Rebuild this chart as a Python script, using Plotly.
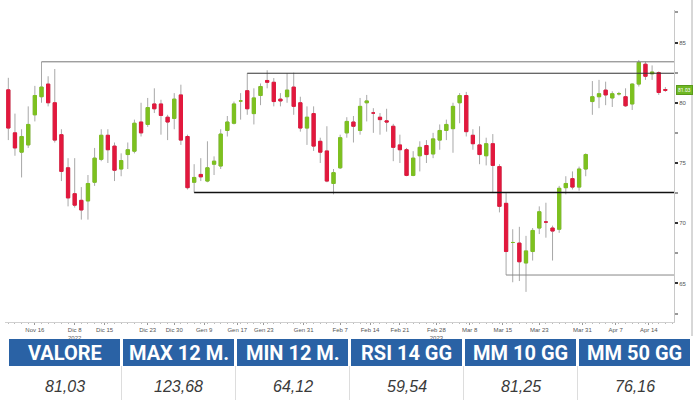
import plotly.graph_objects as go

# daily OHLC, one candle per trading session
OPEN = [81.07, 77.5, 75.9, 76.5, 79.0, 80.5, 81.55, 80.0, 77.35, 74.6,
        72.45, 71.9, 71.85, 73.4, 75.3, 77.3, 76.4, 74.5, 75.7, 75.98,
        78.4, 78.2, 79.9, 79.9, 78.8, 78.7, 80.65, 77.2, 73.4, 74.05,
        73.5, 74.9, 74.75, 77.7, 78.3, 80.15, 81.0, 79.1, 80.6, 81.85,
        81.7, 80.3, 80.5, 81.3, 80.0, 77.9, 79.1, 76.8, 76.0, 73.3,
        74.6, 77.5, 78.4, 77.7, 80.0, 79.15, 78.8, 78.5, 78.05, 76.5,
        76.1, 73.97, 75.6, 76.45, 75.75, 76.9, 77.7, 77.85, 80.0, 80.6,
        77.3, 76.5, 75.6, 76.6, 74.7, 71.65, 68.4, 68.35, 66.7, 67.65,
        69.6, 70.1, 69.6, 69.5, 72.95, 73.7, 73.0, 74.5, 80.1, 80.5,
        81.05, 80.4, 80.75, 80.5, 79.9, 81.55, 83.2, 82.4, 82.5, 81.1]
HIGH = [82.07, 79.1, 77.8, 79.7, 81.4, 83.4, 82.2, 82.8, 77.8, 75.4,
        75.4, 73.0, 74.0, 76.25, 77.8, 77.8, 76.7, 75.8, 76.7, 78.6,
        80.0, 80.4, 81.2, 80.25, 79.0, 80.8, 81.5, 77.35, 74.9, 75.4,
        76.8, 75.55, 77.8, 78.9, 80.1, 80.8, 82.45, 81.2, 81.6, 82.7,
        82.05, 80.8, 82.45, 82.5, 80.5, 79.7, 79.7, 77.1, 78.05, 74.5,
        77.35, 78.8, 78.9, 80.4, 80.65, 79.55, 79.15, 79.5, 78.25, 77.35,
        76.25, 75.98, 76.8, 76.9, 77.5, 78.2, 78.6, 80.0, 80.8, 80.9,
        77.8, 78.05, 77.1, 77.4, 74.9, 72.5, 69.5, 69.7, 68.95, 69.6,
        71.4, 71.7, 69.8, 73.1, 73.9, 74.3, 74.7, 75.8, 81.8, 81.9,
        81.75, 80.95, 80.9, 81.2, 81.6, 83.55, 83.4, 83.1, 82.6, 81.3]
LOW = [76.9, 75.6, 73.8, 76.25, 78.45, 80.0, 79.7, 76.7, 73.5, 71.4,
       71.3, 70.3, 70.3, 73.1, 75.15, 75.0, 73.5, 73.9, 74.5, 75.8,
       77.2, 78.0, 79.15, 77.35, 76.9, 77.8, 76.5, 72.8, 72.54, 73.5,
       73.4, 74.0, 74.5, 77.2, 78.2, 78.6, 79.0, 78.2, 79.8, 81.2,
       79.7, 79.7, 80.0, 79.0, 77.6, 76.5, 76.0, 75.0, 73.4, 72.4,
       74.5, 77.1, 76.7, 77.35, 78.45, 77.5, 77.35, 77.6, 75.15, 75.0,
       73.9, 73.9, 74.3, 75.0, 75.4, 76.1, 76.9, 75.85, 78.3, 77.2,
       76.1, 74.9, 74.8, 72.5, 70.9, 65.7, 65.1, 65.2, 64.3, 66.9,
       69.1, 68.8, 66.9, 69.2, 72.4, 72.8, 72.7, 73.9, 79.0, 79.55,
       79.8, 79.65, 80.6, 79.65, 79.4, 81.35, 81.9, 81.9, 80.65, 80.9]
CLOSE = [77.9, 76.25, 77.2, 78.2, 80.6, 81.3, 80.0, 76.9, 74.3, 72.1,
         71.5, 71.1, 73.3, 75.4, 77.3, 76.1, 74.4, 75.2, 76.1, 78.3,
         77.5, 79.6, 79.5, 78.95, 78.4, 80.3, 76.9, 72.95, 73.8, 73.85,
         74.6, 75.15, 77.4, 78.4, 79.9, 80.15, 79.5, 80.4, 81.35, 81.7,
         80.1, 80.15, 81.05, 79.7, 77.9, 78.8, 76.4, 75.9, 73.5, 74.2,
         77.1, 78.45, 78.05, 79.7, 80.15, 79.15, 78.6, 78.4, 76.3, 76.1,
         73.97, 75.4, 76.3, 75.7, 77.0, 77.7, 78.2, 79.7, 80.6, 77.6,
         76.6, 75.7, 76.6, 74.8, 71.4, 67.65, 68.4, 66.8, 67.7, 69.4,
         70.95, 70.1, 69.35, 72.9, 73.3, 73.0, 74.5, 75.7, 80.5, 80.75,
         80.65, 80.75, 80.75, 79.75, 81.55, 83.35, 82.2, 82.55, 80.85, 81.03]
DAYS = list(range(1, len(OPEN) + 1))

TICK_POS = [5, 11, 15.5, 22, 26, 30.5, 35.5, 39.5, 45.5, 51,
            55.5, 60, 65.5, 70.5, 75.5, 81, 87.5, 92.5, 97.5]
TICK_TEXT = ["Nov 16", "Dic 8<br>2022", "Dic 15", "Dic 23", "Dic 30", "Gen 9",
             "Gen 17", "Gen 23", "Gen 31", "Feb 7", "Feb 14", "Feb 21",
             "Feb 28<br>2023", "Mar 8", "Mar 15", "Mar 23", "Mar 31", "Apr 7", "Apr 14"]

# support / resistance levels: starting candle and price
LEVEL_START = [6, 37, 29, 76]
LEVEL_PRICE = [83.4, 82.45, 72.54, 65.7]
LAST_PRICE = 81.03

TABLE_HEADERS = ["VALORE", "MAX 12 M.", "MIN 12 M.", "RSI 14 GG", "MM 10 GG", "MM 50 GG"]
TABLE_VALUES = ["81,03", "123,68", "64,12", "59,54", "81,25", "76,16"]

GREEN = "#7dc11f"
RED = "#e2183d"
BLUE = "#2a62a5"
X_RANGE = [0.5, 101.3]
Y_RANGE = [61.8, 87.7]

# plot area in pixels: x 5..674, y 10..322
L, R, T, B = 5, 26, 10, 78
PW, PH = 700 - L - R, 400 - T - B


def px(x):
    return (x - L) / PW


def py(y):
    return (T + PH - y) / PH


fig = go.Figure()

# wicks (grey) with coloured bodies
fig.add_trace(go.Candlestick(
    x=DAYS, open=OPEN, high=HIGH, low=LOW, close=CLOSE,
    increasing=dict(line=dict(color="#a8a8a8", width=1), fillcolor=GREEN),
    decreasing=dict(line=dict(color="#a8a8a8", width=1), fillcolor=RED),
    hoverinfo="skip", showlegend=False,
))
# bodies on top so their outline matches the fill
body_hi = [max(o, c) for o, c in zip(OPEN, CLOSE)]
body_lo = [min(o, c) for o, c in zip(OPEN, CLOSE)]
fig.add_trace(go.Candlestick(
    x=DAYS, open=OPEN, high=body_hi, low=body_lo, close=CLOSE,
    increasing=dict(line=dict(color=GREEN, width=1), fillcolor=GREEN),
    decreasing=dict(line=dict(color=RED, width=1), fillcolor=RED),
    showlegend=False,
))

level_style = [("#777777", 1), ("#333333", 1), ("#111111", 1.5), ("#888888", 1)]
for start, price, (col, w) in zip(LEVEL_START, LEVEL_PRICE, level_style):
    fig.add_shape(type="line", xref="x", yref="y", x0=start, x1=X_RANGE[1],
                  y0=price, y1=price, line=dict(color=col, width=w))

# last price tag on the right axis
fig.add_annotation(xref="paper", yref="y", x=px(684.5), y=LAST_PRICE,
                   xanchor="center", yanchor="middle",
                   text=f"{LAST_PRICE:.2f}", showarrow=False,
                   font=dict(size=5, color="white", family="Roboto"),
                   bgcolor="#6fb823", bordercolor="#5a9a1a", borderpad=1)

# outer frame line on the right
fig.add_shape(type="line", xref="paper", yref="paper", x0=px(692), x1=px(692),
              y0=py(0), y1=py(336), line=dict(color="#b0b0b0", width=1))

# summary table under the chart
for i, (head, val) in enumerate(zip(TABLE_HEADERS, TABLE_VALUES)):
    x0 = 9 + 114 * i
    x1 = x0 + 111
    fig.add_shape(type="rect", xref="paper", yref="paper", x0=px(x0), x1=px(x1),
                  y0=py(366), y1=py(339), fillcolor=BLUE, line=dict(width=0))
    fig.add_annotation(xref="paper", yref="paper", x=px((x0 + x1) / 2), y=py(353),
                       xanchor="center", yanchor="middle",
                       text=f"<b>{head}</b>", showarrow=False,
                       font=dict(size=20, color="white", family="Roboto"))
    fig.add_annotation(xref="paper", yref="paper", x=px((x0 + x1) / 2), y=py(386),
                       xanchor="center", yanchor="middle",
                       text=f"<i>{val}</i>", showarrow=False,
                       font=dict(size=16, color="#3a3a3a", family="Liberation Sans"))
    if i > 0:
        fig.add_shape(type="line", xref="paper", yref="paper", x0=px(x0 - 1.5),
                      x1=px(x0 - 1.5), y0=py(366), y1=py(400),
                      line=dict(color="#dddddd", width=1))

fig.update_layout(
    width=700, height=400,
    margin=dict(l=L, r=R, t=T, b=B),
    paper_bgcolor="white", plot_bgcolor="white",
    showlegend=False,
    xaxis=dict(
        range=X_RANGE, rangeslider=dict(visible=False),
        tickvals=TICK_POS, ticktext=TICK_TEXT,
        tickfont=dict(size=6, color="#555555", family="Liberation Sans"),
        showgrid=False, zeroline=False,
        showline=True, linecolor="#d0d0d0", linewidth=1,
        ticks="outside", ticklen=2, tickcolor="#999999",
        minor=dict(dtick=1, ticks="outside", ticklen=1, tickcolor="#bbbbbb"),
    ),
    yaxis=dict(
        range=Y_RANGE, side="right", dtick=5,
        tickfont=dict(size=6, color="#555555", family="Liberation Sans"),
        showgrid=False, zeroline=False,
        showline=True, linecolor="#c8c8c8", linewidth=1,
        ticks="outside", ticklen=3, tickwidth=2, tickcolor="#333333",
        minor=dict(dtick=2.5, ticks="outside", ticklen=3, tickcolor="#999999"),
    ),
)

# drop the browser's default body margin so the 700x400 figure sits at the origin
fig.write_html("out.html", config={"displayModeBar": False},
               post_script="document.body.style.margin='0';")
